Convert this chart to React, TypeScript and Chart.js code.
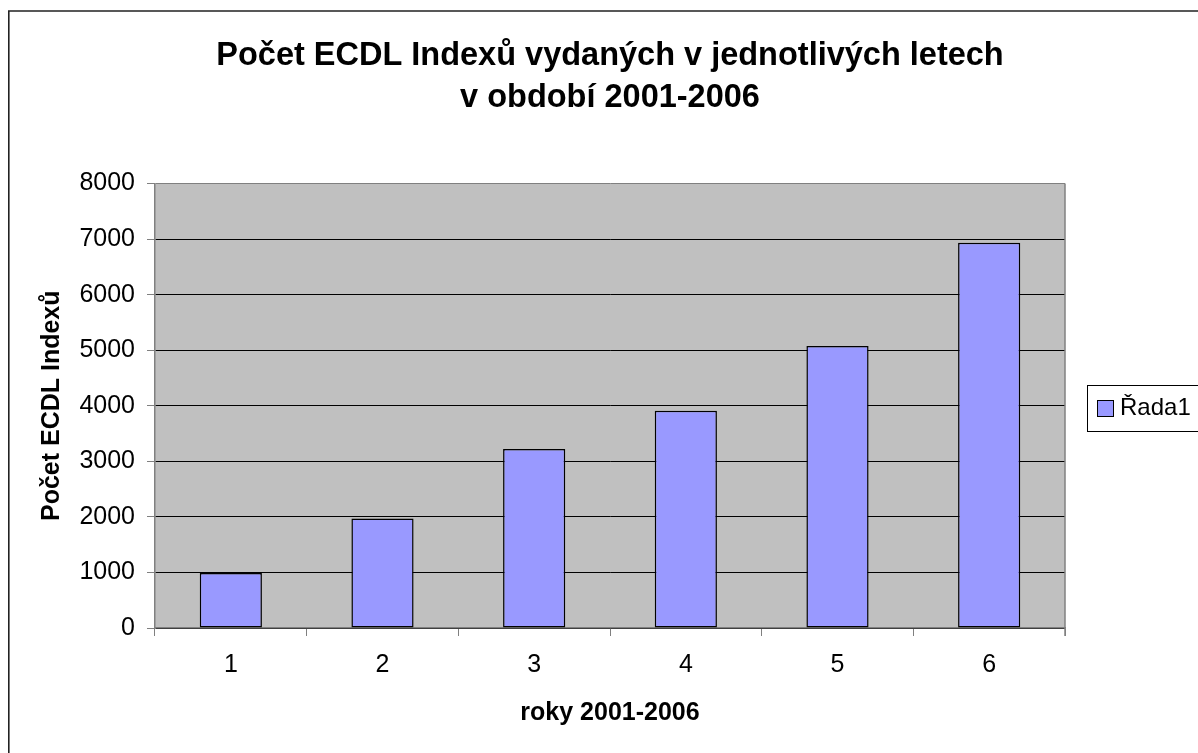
import React, { useEffect, useRef } from "react";
import { Chart, registerables } from "chart.js";

Chart.register(...registerables);

const TITLE_LINES = ["Počet ECDL Indexů vydaných v jednotlivých letech", "v období 2001-2006"];
const CATEGORIES = ["1", "2", "3", "4", "5", "6"];
const SERIES_NAME = "Řada1";
const SERIES_VALUES = [990, 1970, 3220, 3910, 5075, 6935];
const Y_TITLE = "Počet ECDL Indexů";
const X_TITLE = "roky 2001-2006";
const Y_MIN = 0;
const Y_MAX = 8000;
const Y_STEP = 1000;

const FONT = "'Liberation Sans', Arial, sans-serif";
const BAR_COLOR = "#9999FF";

const decorPlugin = {
  id: "decor",
  beforeDraw(chart: any) {
    const { ctx, chartArea } = chart;
    ctx.save();
    ctx.fillStyle = "#ffffff";
    ctx.fillRect(0, 0, chart.width, chart.height);
    // outer frame (right and bottom edges lie outside the view)
    ctx.strokeStyle = "#222222";
    ctx.lineWidth = 1.6;
    ctx.beginPath();
    ctx.moveTo(0.8, chart.height + 5);
    ctx.lineTo(0.8, 3);
    ctx.lineTo(chart.width + 5, 3);
    ctx.stroke();
    // plot background
    ctx.fillStyle = "#C0C0C0";
    ctx.fillRect(chartArea.left, chartArea.top, chartArea.right - chartArea.left, chartArea.bottom - chartArea.top);
    ctx.restore();
  },
  beforeDatasetsDraw(chart: any) {
    const { ctx, chartArea } = chart;
    ctx.save();
    ctx.strokeStyle = "#808080";
    ctx.lineWidth = 1.5;
    ctx.beginPath();
    ctx.moveTo(chartArea.right, chartArea.top);
    ctx.lineTo(chartArea.right, chartArea.bottom + 8);
    ctx.stroke();
    ctx.restore();
  },
  afterDraw(chart: any) {
    const { ctx } = chart;
    const ds = chart.data.datasets[0];
    ctx.save();
    // legend box
    ctx.fillStyle = "#ffffff";
    ctx.strokeStyle = "#000000";
    ctx.lineWidth = 1;
    ctx.fillRect(1079.5, 377.5, 200, 46);
    ctx.strokeRect(1079.5, 377.5, 200, 46);
    ctx.fillStyle = ds.backgroundColor;
    ctx.fillRect(1089.5, 392.5, 16, 16);
    ctx.strokeRect(1089.5, 392.5, 16, 16);
    ctx.fillStyle = "#000000";
    ctx.font = `24px ${FONT}`;
    ctx.textBaseline = "alphabetic";
    ctx.textAlign = "left";
    ctx.fillText(ds.label, 1112, 407);
    ctx.restore();
  },
};

export default function App() {
  const canvasRef = useRef<HTMLCanvasElement | null>(null);

  useEffect(() => {
    if (!canvasRef.current) return;
    const chart = new Chart(canvasRef.current, {
      type: "bar",
      data: {
        labels: CATEGORIES,
        datasets: [
          {
            label: SERIES_NAME,
            data: SERIES_VALUES,
            backgroundColor: BAR_COLOR,
            borderColor: "#000000",
            borderWidth: 1.5,
            borderSkipped: false,
            barPercentage: 0.41,
            categoryPercentage: 1,
          },
        ],
      },
      plugins: [decorPlugin],
      options: {
        animation: false,
        responsive: false,
        devicePixelRatio: 1,
        layout: { padding: { left: 0, right: 133, top: 0, bottom: 0 } },
        plugins: {
          legend: { display: false },
          tooltip: { enabled: false },
          title: {
            display: true,
            fullSize: false,
            text: TITLE_LINES,
            color: "#000000",
            font: { family: FONT, size: 32.5, weight: "bold", lineHeight: 1.3 },
            padding: { top: 27, bottom: 64 },
          },
        },
        scales: {
          x: {
            offset: true,
            grid: {
              offset: true,
              drawOnChartArea: false,
              tickLength: 8,
              tickColor: "#808080",
              color: "#808080",
            },
            border: { display: true, color: "#808080", width: 1.5 },
            ticks: {
              color: "#000000",
              padding: 14,
              font: { family: FONT, size: 25, lineHeight: 1.2 },
            },
            title: {
              display: true,
              text: X_TITLE,
              color: "#000000",
              font: { family: FONT, size: 25, weight: "bold", lineHeight: 1.2 },
              padding: { top: 0, bottom: 25 },
            },
            afterFit(scale: any) {
              scale.height = 125;
            },
          },
          y: {
            min: Y_MIN,
            max: Y_MAX,
            grid: {
              color: (c: any) => (c.tick && c.tick.value === Y_MAX ? "#808080" : "#000000"),
              tickColor: "#808080",
              tickLength: 8,
              lineWidth: 1,
            },
            border: { display: true, color: "#808080", width: 1.5 },
            ticks: {
              stepSize: Y_STEP,
              color: "#000000",
              padding: 12,
              font: { family: FONT, size: 25, lineHeight: 1.2 },
              callback: (v: any) => String(v),
            },
            title: {
              display: true,
              text: Y_TITLE,
              color: "#000000",
              font: { family: FONT, size: 25, weight: "bold", lineHeight: 1.2 },
              padding: { top: 29, bottom: 0 },
            },
            afterFit(scale: any) {
              scale.width = 147;
            },
          },
        },
      },
    } as any);
    return () => chart.destroy();
  }, []);

  return (
    <div style={{ position: "absolute", left: 8, top: 8, width: 1190, height: 745, overflow: "hidden" }}>
      <canvas ref={canvasRef} width={1190} height={745} style={{ display: "block", width: 1190, height: 745 }} />
    </div>
  );
}
